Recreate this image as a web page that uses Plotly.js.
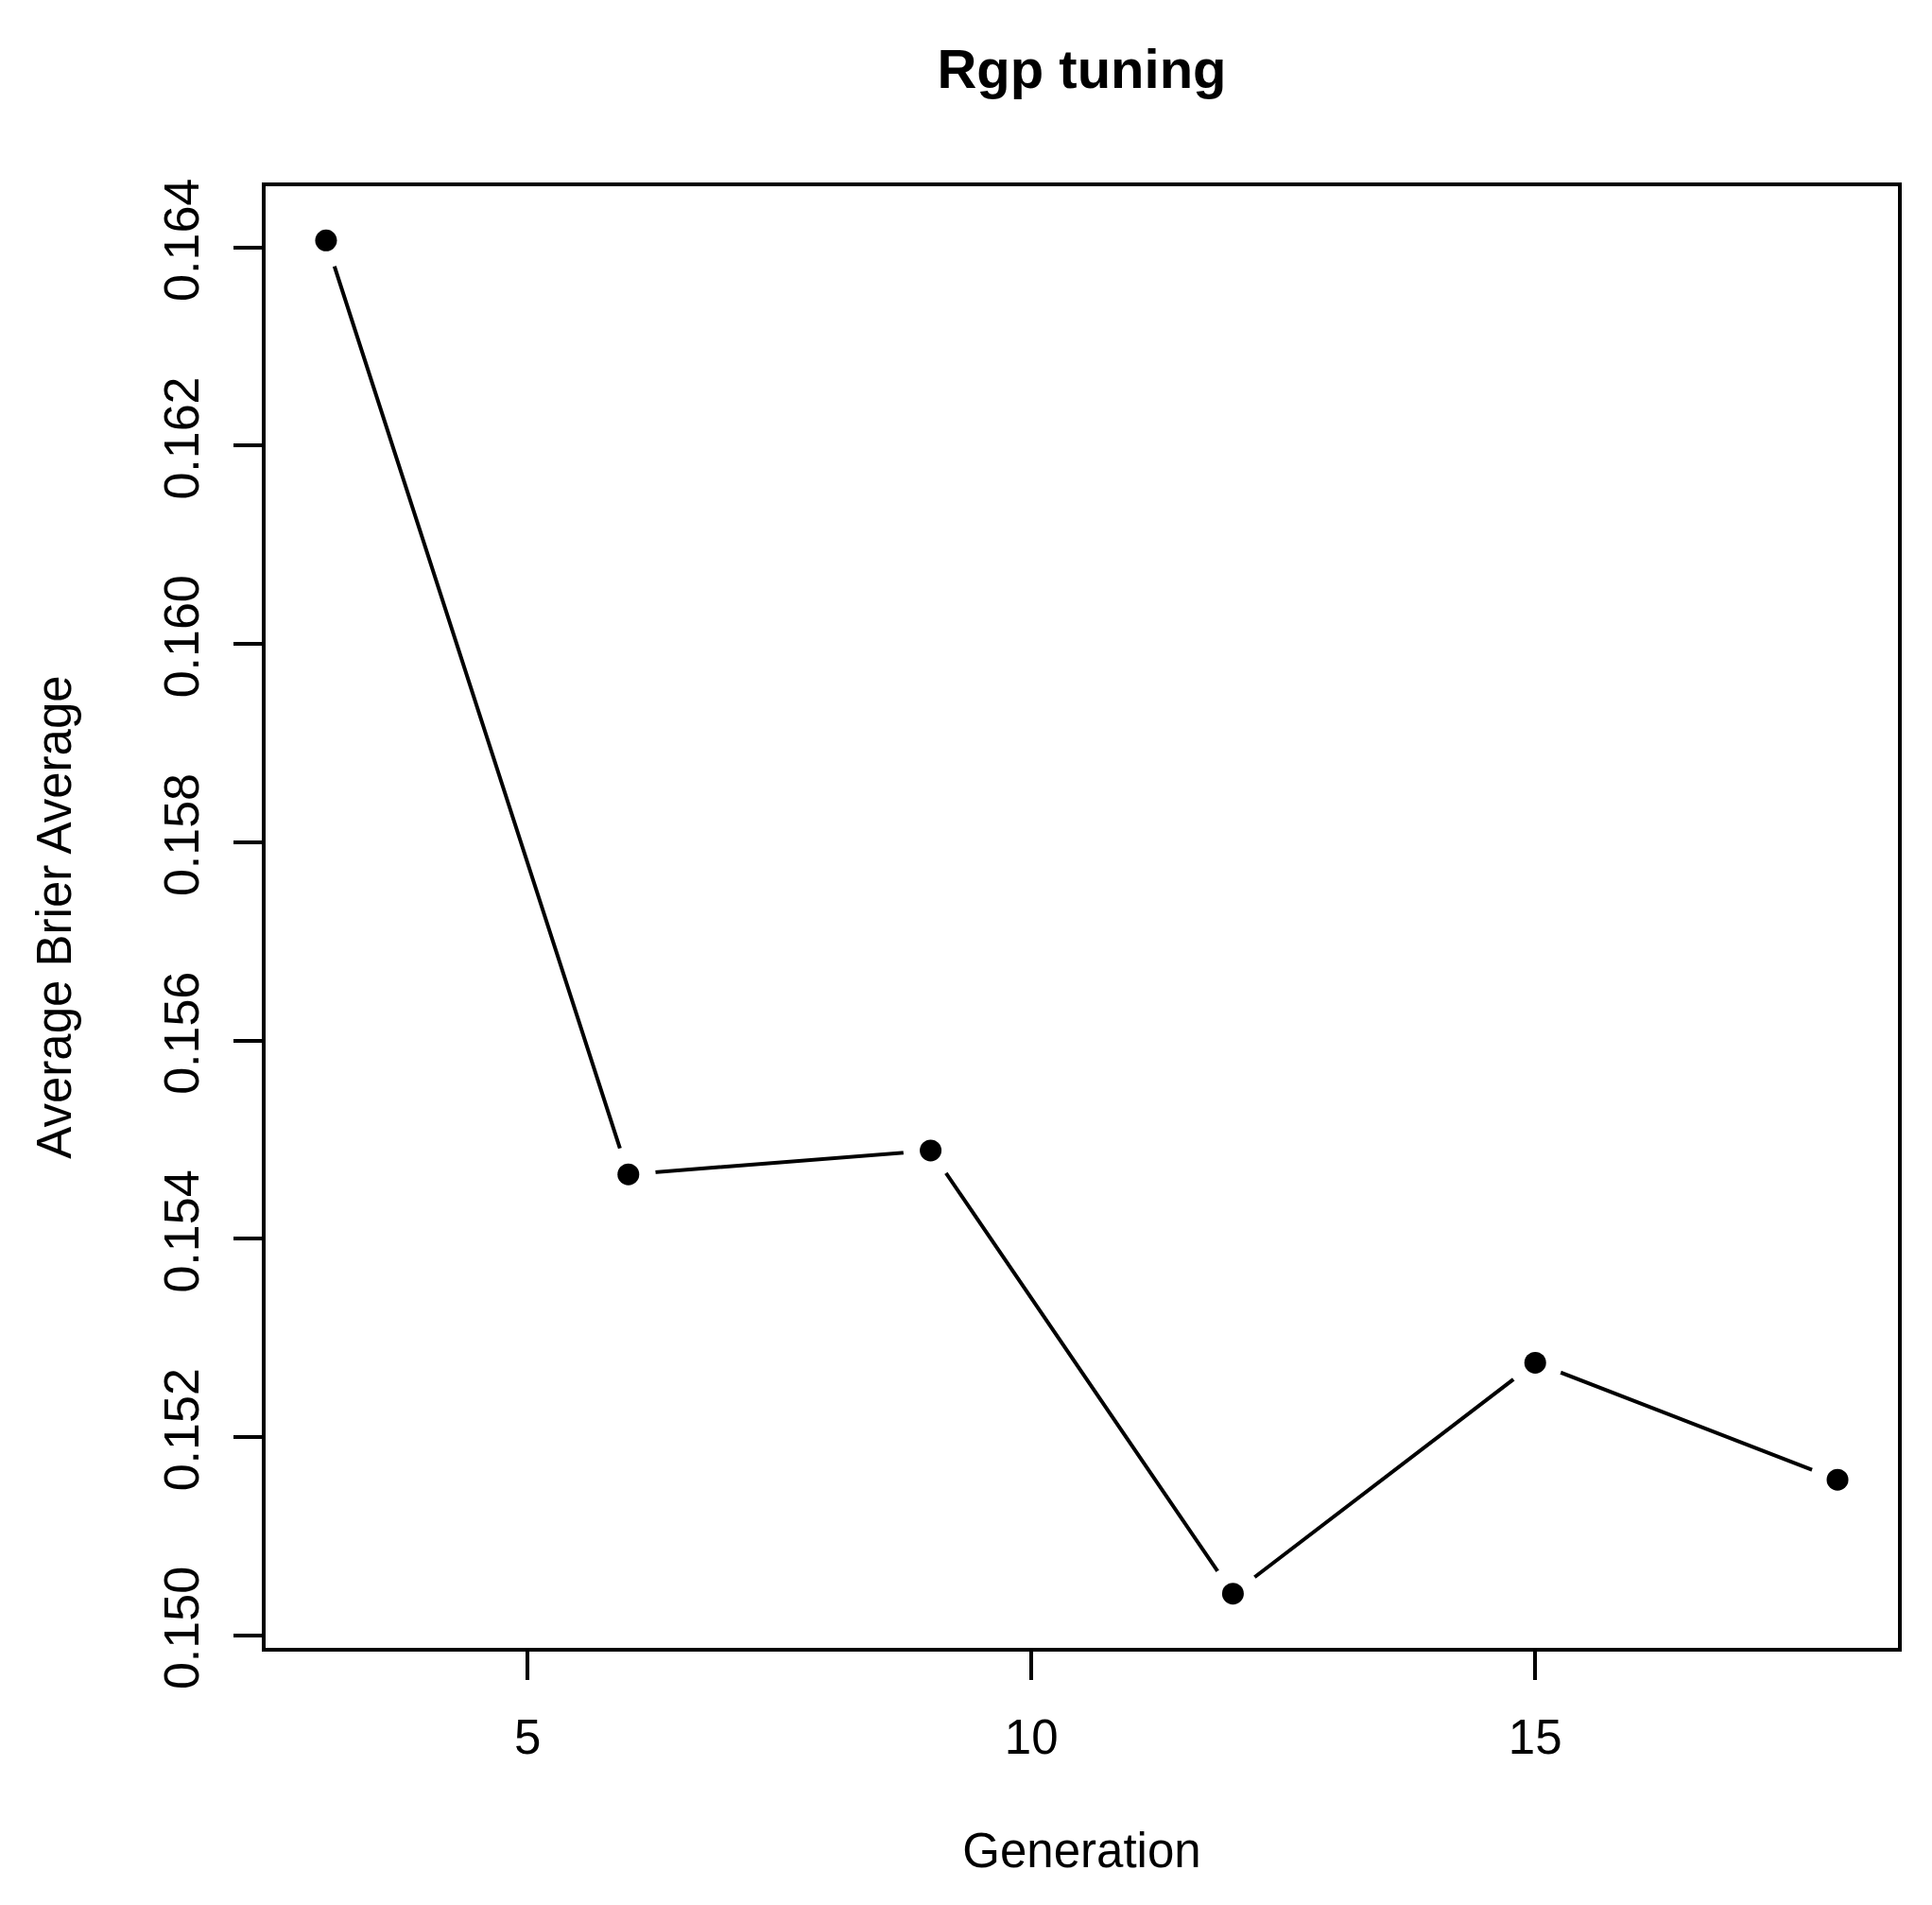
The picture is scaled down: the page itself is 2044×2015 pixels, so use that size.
<!DOCTYPE html>
<html>
<head>
<meta charset="utf-8">
<script src="https://cdn.plot.ly/plotly-3.0.1.min.js"></script>
<style>html,body{margin:0;padding:0;background:#fff;}#chart{width:2044px;height:2015px;}</style>
</head>
<body>
<div id="chart"></div>
<script>
var generation = [3, 6, 9, 12, 15, 18];
var brier = [0.16407, 0.15465, 0.15489, 0.15042, 0.15275, 0.15157];
var xTicks = [5, 10, 15];
var yTicks = [0.150, 0.152, 0.154, 0.156, 0.158, 0.160, 0.162, 0.164];
var yTickText = ["0.150", "0.152", "0.154", "0.156", "0.158", "0.160", "0.162", "0.164"];

function rRange(a) {
  var mn = Math.min.apply(null, a), mx = Math.max.apply(null, a);
  var d = mx - mn;
  return [mn - 0.04 * d, mx + 0.04 * d];
}

var FONT = "Liberation Sans, Arial, Helvetica, sans-serif";

var traces = [
  {x: generation, y: brier, mode: "lines", line: {color: "#000", width: 4}, hoverinfo: "skip"},
  {x: generation, y: brier, mode: "markers", marker: {color: "#fff", size: 58, line: {width: 0}}, hoverinfo: "skip"},
  {x: generation, y: brier, mode: "markers", marker: {color: "#000", size: 23, line: {width: 0}}}
];

var layout = {
  width: 2044, height: 2015,
  margin: {l: 281, r: 36, t: 197, b: 272, pad: 0},
  paper_bgcolor: "#fff", plot_bgcolor: "#fff",
  showlegend: false,
  font: {family: FONT, size: 51, color: "#000"},
  title: {text: "<b>Rgp tuning</b>", font: {family: FONT, size: 58, color: "#000"},
          x: 0.5, xref: "paper", xanchor: "center", yref: "container", y: 1 - 93/2015, yanchor: "bottom"},
  xaxis: {
    range: rRange(generation), tickmode: "array", tickvals: xTicks, ticktext: xTicks.map(String),
    showgrid: false, zeroline: false, showline: true, linecolor: "#000", linewidth: 4, mirror: true,
    ticks: "outside", ticklen: 30, tickwidth: 4, tickcolor: "#000", ticklabelstandoff: 17,
    tickfont: {family: FONT, size: 51, color: "#000"},
    title: {text: "Generation", font: {family: FONT, size: 51, color: "#000"}, standoff: 75}
  },
  yaxis: {
    range: rRange(brier), tickmode: "array", tickvals: yTicks, ticktext: yTickText, tickangle: -90,
    showgrid: false, zeroline: false, showline: true, linecolor: "#000", linewidth: 4, mirror: true,
    ticks: "outside", ticklen: 30, tickwidth: 4, tickcolor: "#000", ticklabelstandoff: 16,
    tickfont: {family: FONT, size: 52, color: "#000"},
    title: {text: "Average Brier Average", font: {family: FONT, size: 51, color: "#000"}, standoff: 72}
  }
};

Plotly.newPlot("chart", traces, layout, {staticPlot: true, displayModeBar: false});
</script>
</body>
</html>
